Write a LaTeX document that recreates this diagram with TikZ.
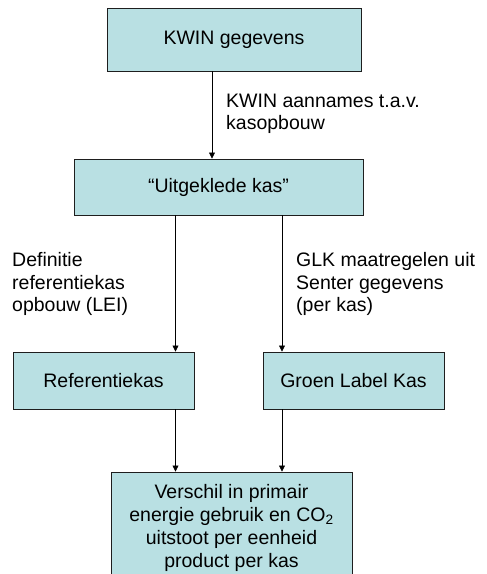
\documentclass[tikz,border=0pt]{standalone}
\usepackage{fontspec}
\setmainfont{Liberation Sans}
\usetikzlibrary{arrows.meta}
\definecolor{boxfill}{RGB}{185,224,227}
\definecolor{boxline}{RGB}{30,30,30}
\tikzset{
  flowbox/.style={draw=boxline, fill=boxfill, line width=0.9pt, inner sep=0pt,
    align=center, font=\fontsize{19.5}{22.8}\selectfont},
  arr/.style={draw=black, line width=0.7pt, -{Triangle[length=6pt,width=6pt]}},
  note/.style={inner sep=0pt, align=left, anchor=north west,
    font=\fontsize{19.5}{22.5}\selectfont}
}
\begin{document}
\begin{tikzpicture}[x=1pt,y=-1pt]
  \useasboundingbox (0,0) rectangle (487,574);
  \clip (0,0) rectangle (487,574);

  % boxes
  \node[flowbox, minimum width=254pt, minimum height=63pt] (kwin) at (234,39.5) {KWIN gegevens};
  \node[flowbox, minimum width=289pt, minimum height=56pt] (uitg) at (218.5,187) {\char"201C Uitgeklede kas\char"201D};
  \node[flowbox, minimum width=181pt, minimum height=57pt] (ref) at (103.5,380.5) {Referentiekas};
  \node[flowbox, minimum width=181pt, minimum height=57pt] (glk) at (353.5,380.5) {Groen Label Kas};
  \node[flowbox, minimum width=241pt, minimum height=112pt] (verschil) at (231.5,528)
    {Verschil in primair\\energie gebruik en CO\textsubscript{2}\\uitstoot per eenheid\\product per kas};

  % connector columns
  \coordinate (colA) at (212,0);
  \coordinate (colL) at (175.5,0);
  \coordinate (colR) at (282,0);

  \draw[arr] (kwin.south -| colA) -- (uitg.north -| colA);
  \draw[arr] (uitg.south -| colL) -- (ref.north -| colL);
  \draw[arr] (uitg.south -| colR) -- (glk.north -| colR);
  \draw[arr] (ref.south -| colL) -- (verschil.north -| colL);
  \draw[arr] (glk.south -| colR) -- (verschil.north -| colR);

  % connector labels
  \node[note] (lblkwin) at (226,93.5) {KWIN aannames t.a.v.\\kasopbouw};
  \node[note] (lbldef) at (12,252.5) {Definitie\\referentiekas\\opbouw (LEI)};
  \node[note] (lblglk) at (296,252.5) {GLK maatregelen uit\\Senter gegevens\\(per kas)};
\end{tikzpicture}
\end{document}
